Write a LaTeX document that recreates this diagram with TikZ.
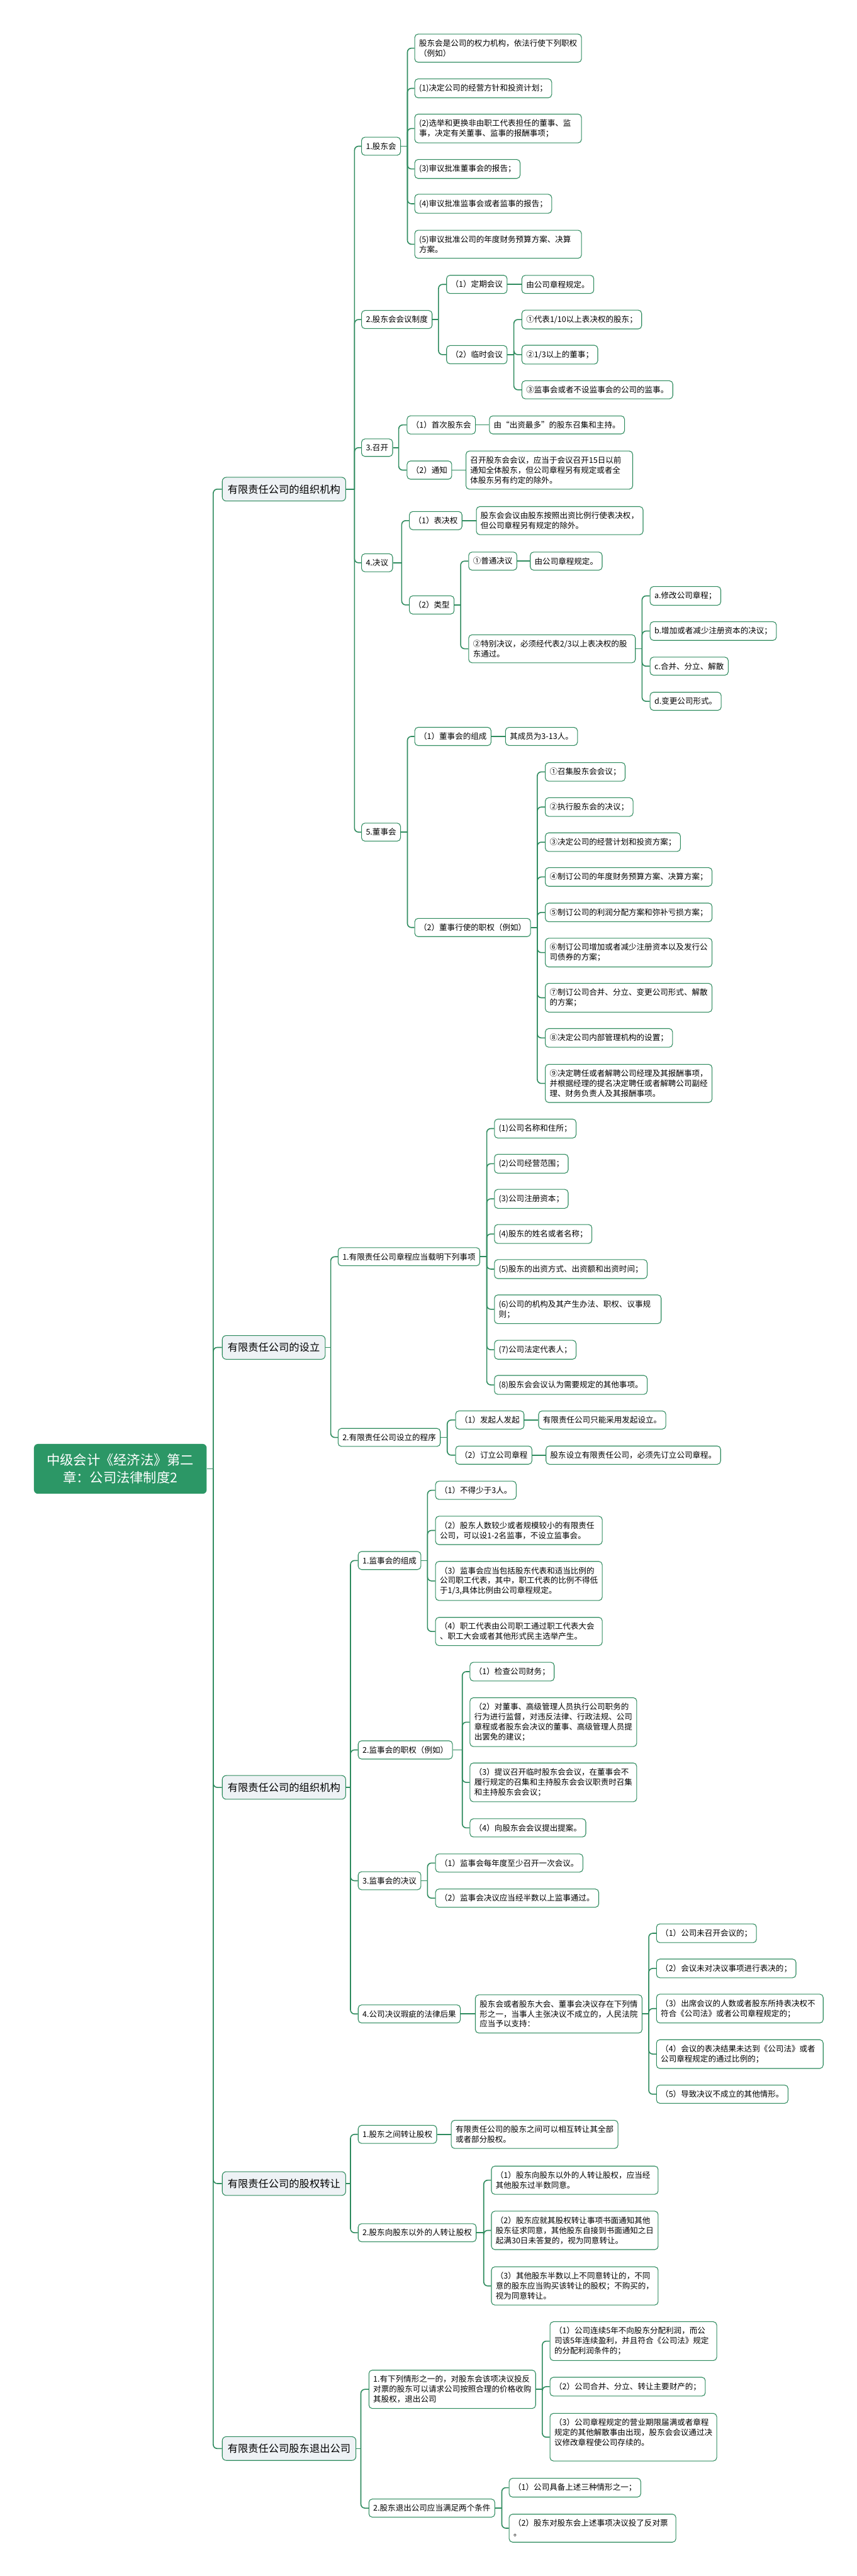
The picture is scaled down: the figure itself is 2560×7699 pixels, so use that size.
\documentclass[tikz,border=0pt]{standalone}
\usepackage{fontspec}
\setmainfont{Noto Sans CJK SC}
\definecolor{leaf}{HTML}{2E8B5E}
\definecolor{deep}{HTML}{2C9766}
\definecolor{mist}{HTML}{EEF2F5}
\tikzset{link/.style={draw=leaf,line width=1.5pt,rounded corners=6pt},
root/.style={fill=deep,text=white,rounded corners=6pt,align=center,anchor=west,minimum width=258pt,minimum height=74.5pt,font={\fontsize{20pt}{26pt}\selectfont}},
topic/.style={draw=leaf,line width=1pt,fill=mist,rounded corners=6pt,anchor=west,inner xsep=8pt,minimum height=35.5pt,font={\fontsize{15.3pt}{18pt}\selectfont}},
item/.style={draw=leaf,line width=1pt,fill=white,rounded corners=5pt,anchor=west,align=left,inner xsep=6.5pt,inner ysep=8pt,font={\fontsize{11.8pt}{15pt}\selectfont}},
wide/.style={item,text width=236pt}}
\newcommand{\fork}[3]{%
  \coordinate (#1-x) at (#2,0);
  \draw[link] (#1.east) -- (#1.east -| #1-x);
  \foreach \kid in {#3}{\draw[link] (#1.east -| #1-x) |- (\kid.west);}}

\begin{document}
\begin{tikzpicture}[x=0.5pt,y=-0.5pt]
\path[fill=white,use as bounding box] (0,0) rectangle (2560,7699);
\node[root] (root) at (101,4390) {中级会计《经济法》第二\\章：公司法律制度2};
\node[topic] (t1) at (663,1462) {有限责任公司的组织机构};
\node[topic] (t2) at (663,4027) {有限责任公司的设立};
\node[topic] (t3) at (663,5342) {有限责任公司的组织机构};
\node[topic] (t4) at (663,6526) {有限责任公司的股权转让};
\node[topic] (t5) at (663,7318) {有限责任公司股东退出公司};
% 组织机构 (一)
\node[item] (a1) at (1079,437) {1.股东会};
\node[wide] (a1p) at (1238,144) {股东会是公司的权力机构，依法行使下列职权\\（例如）};
\node[item] (a11) at (1238,264) {(1)决定公司的经营方针和投资计划；};
\node[wide] (a12) at (1238,384) {(2)选举和更换非由职工代表担任的董事、监\\事，决定有关董事、监事的报酬事项；};
\node[item] (a13) at (1238,505) {(3)审议批准董事会的报告；};
\node[item] (a14) at (1238,609) {(4)审议批准监事会或者监事的报告；};
\node[wide] (a15) at (1238,730) {(5)审议批准公司的年度财务预算方案、决算\\方案。};
\node[item] (a2) at (1079,955) {2.股东会会议制度};
\node[item] (a21) at (1333,850) {（1）定期会议};
\node[item] (a21x) at (1558,850) {由公司章程规定。};
\node[item] (a22) at (1333,1060) {（2）临时会议};
\node[item] (a221) at (1558,955) {①代表1/10以上表决权的股东；};
\node[item] (a222) at (1558,1060) {②1/3以上的董事；};
\node[item] (a223) at (1558,1165) {③监事会或者不设监事会的公司的监事。};
\node[item] (a3) at (1079,1338) {3.召开};
\node[item] (a31) at (1215,1270) {（1）首次股东会};
\node[item] (a31x) at (1461,1270) {由“出资最多”的股东召集和主持。};
\node[item] (a32) at (1215,1405) {（2）通知};
\node[wide] (a32x) at (1391,1405) {召开股东会会议，应当于会议召开15日以前\\通知全体股东，但公司章程另有规定或者全\\体股东另有约定的除外。};
\node[item] (a4) at (1079,1682) {4.决议};
\node[item] (a41) at (1222,1556) {（1）表决权};
\node[wide] (a41x) at (1422,1556) {股东会会议由股东按照出资比例行使表决权，\\但公司章程另有规定的除外。};
\node[item] (a42) at (1222,1808) {（2）类型};
\node[item] (a421) at (1399,1677) {①普通决议};
\node[item] (a421x) at (1583,1677) {由公司章程规定。};
\node[wide] (a422) at (1399,1939) {②特别决议，必须经代表2/3以上表决权的股\\东通过。};
\node[item] (a4221) at (1941,1781) {a.修改公司章程；};
\node[item] (a4222) at (1941,1886) {b.增加或者减少注册资本的决议；};
\node[item] (a4223) at (1941,1991) {c.合并、分立、解散};
\node[item] (a4224) at (1941,2096) {d.变更公司形式。};
\node[item] (a5) at (1079,2487) {5.董事会};
\node[item] (a51) at (1238,2201) {（1）董事会的组成};
\node[item] (a51x) at (1509,2201) {其成员为3-13人。};
\node[item] (a52) at (1238,2772) {（2）董事行使的职权（例如）};
\node[item] (a521) at (1628,2307) {①召集股东会会议；};
\node[item] (a522) at (1628,2412) {②执行股东会的决议；};
\node[item] (a523) at (1628,2517) {③决定公司的经营计划和投资方案；};
\node[item] (a524) at (1628,2621) {④制订公司的年度财务预算方案、决算方案；};
\node[item] (a525) at (1628,2727) {⑤制订公司的利润分配方案和弥补亏损方案；};
\node[wide] (a526) at (1628,2847) {⑥制订公司增加或者减少注册资本以及发行公\\司债券的方案；};
\node[wide] (a527) at (1628,2982) {⑦制订公司合并、分立、变更公司形式、解散\\的方案；};
\node[item] (a528) at (1628,3102) {⑧决定公司内部管理机构的设置；};
\node[wide] (a529) at (1628,3238) {⑨决定聘任或者解聘公司经理及其报酬事项，\\并根据经理的提名决定聘任或者解聘公司副经\\理、财务负责人及其报酬事项。};
% 设立
\node[item] (b1) at (1009,3756) {1.有限责任公司章程应当载明下列事项};
\node[item] (b11) at (1476,3373) {(1)公司名称和住所；};
\node[item] (b12) at (1476,3478) {(2)公司经营范围；};
\node[item] (b13) at (1476,3583) {(3)公司注册资本；};
\node[item] (b14) at (1476,3688) {(4)股东的姓名或者名称；};
\node[item] (b15) at (1476,3793) {(5)股东的出资方式、出资额和出资时间；};
\node[wide] (b16) at (1476,3913) {(6)公司的机构及其产生办法、职权、议事规\\则；};
\node[item] (b17) at (1476,4034) {(7)公司法定代表人；};
\node[item] (b18) at (1476,4139) {(8)股东会会议认为需要规定的其他事项。};
\node[item] (b2) at (1009,4296) {2.有限责任公司设立的程序};
\node[item] (b21) at (1360,4244) {（1）发起人发起};
\node[item] (b21x) at (1608,4244) {有限责任公司只能采用发起设立。};
\node[item] (b22) at (1360,4349) {（2）订立公司章程};
\node[item] (b22x) at (1630,4349) {股东设立有限责任公司，必须先订立公司章程。};
% 组织机构 (二)
\node[item] (c1) at (1069,4664) {1.监事会的组成};
\node[item] (c11) at (1300,4454) {（1）不得少于3人。};
\node[wide] (c12) at (1300,4574) {（2）股东人数较少或者规模较小的有限责任\\公司，可以设1-2名监事，不设立监事会。};
\node[wide] (c13) at (1300,4725) {（3）监事会应当包括股东代表和适当比例的\\公司职工代表，其中，职工代表的比例不得低\\于1/3,具体比例由公司章程规定。};
\node[wide] (c14) at (1300,4876) {（4）职工代表由公司职工通过职工代表大会\\、职工大会或者其他形式民主选举产生。};
\node[item] (c2) at (1069,5230) {2.监事会的职权（例如）};
\node[item] (c21) at (1403,4996) {（1）检查公司财务；};
\node[wide] (c22) at (1403,5147) {（2）对董事、高级管理人员执行公司职务的\\行为进行监督，对违反法律、行政法规、公司\\章程或者股东会决议的董事、高级管理人员提\\出罢免的建议；};
\node[wide] (c23) at (1403,5327) {（3）提议召开临时股东会会议，在董事会不\\履行规定的召集和主持股东会会议职责时召集\\和主持股东会会议；};
\node[item] (c24) at (1403,5463) {（4）向股东会会议提出提案。};
\node[item] (c3) at (1069,5621) {3.监事会的决议};
\node[item] (c31) at (1300,5568) {（1）监事会每年度至少召开一次会议。};
\node[item] (c32) at (1300,5673) {（2）监事会决议应当经半数以上监事通过。};
\node[item] (c4) at (1069,6019) {4.公司决议瑕疵的法律后果};
\node[wide] (c4x) at (1419,6019) {股东会或者股东大会、董事会决议存在下列情\\形之一，当事人主张决议不成立的，人民法院\\应当予以支持：};
\node[item] (c41) at (1960,5778) {（1）公司未召开会议的；};
\node[item] (c42) at (1960,5883) {（2）会议未对决议事项进行表决的；};
\node[wide] (c43) at (1960,6003) {（3）出席会议的人数或者股东所持表决权不\\符合《公司法》或者公司章程规定的；};
\node[wide] (c44) at (1960,6139) {（4）会议的表决结果未达到《公司法》或者\\公司章程规定的通过比例的；};
\node[item] (c45) at (1960,6259) {（5）导致决议不成立的其他情形。};
% 股权转让
\node[item] (d1) at (1069,6379) {1.股东之间转让股权};
\node[wide] (d1x) at (1347,6379) {有限责任公司的股东之间可以相互转让其全部\\或者部分股权。};
\node[item] (d2) at (1069,6673) {2.股东向股东以外的人转让股权};
\node[wide] (d21) at (1467,6516) {（1）股东向股东以外的人转让股权，应当经\\其他股东过半数同意。};
\node[wide] (d22) at (1467,6666) {（2）股东应就其股权转让事项书面通知其他\\股东征求同意，其他股东自接到书面通知之日\\起满30日未答复的，视为同意转让。};
\node[wide] (d23) at (1467,6832) {（3）其他股东半数以上不同意转让的，不同\\意的股东应当购买该转让的股权；不购买的，\\视为同意转让。};
% 退出公司
\node[wide] (e1) at (1101,7141) {1.有下列情形之一的，对股东会该项决议投反\\对票的股东可以请求公司按照合理的价格收购\\其股权，退出公司};
\node[wide] (e11) at (1642,6997) {（1）公司连续5年不向股东分配利润，而公\\司该5年连续盈利，并且符合《公司法》规定\\的分配利润条件的；};
\node[item] (e12) at (1642,7133) {（2）公司合并、分立、转让主要财产的；};
\node[wide] (e13) at (1642,7284) {（3）公司章程规定的营业期限届满或者章程\\规定的其他解散事由出现，股东会会议通过决\\议修改章程使公司存续的。\\ \mbox{}};
\node[item] (e2) at (1101,7496) {2.股东退出公司应当满足两个条件};
\node[item] (e21) at (1520,7435) {（1）公司具备上述三种情形之一；};
\node[wide] (e22) at (1520,7556) {（2）股东对股东会上述事项决议投了反对票\\。};
% connectors
\fork{root}{637}{t1,t2,t3,t4,t5}
\fork{t1}{1059}{a1,a2,a3,a4,a5}
\fork{a1}{1217}{a1p,a11,a12,a13,a14,a15}
\fork{a2}{1310}{a21,a22}
\draw[link] (a21.east) -- (a21x.west);
\fork{a22}{1535}{a221,a222,a223}
\fork{a3}{1191}{a31,a32}
\draw[link] (a31.east) -- (a31x.west);
\draw[link] (a32.east) -- (a32x.west);
\fork{a4}{1200}{a41,a42}
\draw[link] (a41.east) -- (a41x.west);
\fork{a42}{1376}{a421,a422}
\draw[link] (a421.east) -- (a421x.west);
\fork{a422}{1918}{a4221,a4222,a4223,a4224}
\fork{a5}{1217}{a51,a52}
\draw[link] (a51.east) -- (a51x.west);
\fork{a52}{1605}{a521,a522,a523,a524,a525,a526,a527,a528,a529}
\fork{t2}{988}{b1,b2}
\fork{b1}{1454}{b11,b12,b13,b14,b15,b16,b17,b18}
\fork{b2}{1336}{b21,b22}
\draw[link] (b21.east) -- (b21x.west);
\draw[link] (b22.east) -- (b22x.west);
\fork{t3}{1047}{c1,c2,c3,c4}
\fork{c1}{1277}{c11,c12,c13,c14}
\fork{c2}{1381}{c21,c22,c23,c24}
\fork{c3}{1277}{c31,c32}
\draw[link] (c4.east) -- (c4x.west);
\fork{c4x}{1938}{c41,c42,c43,c44,c45}
\fork{t4}{1047}{d1,d2}
\draw[link] (d1.east) -- (d1x.west);
\fork{d2}{1445}{d21,d22,d23}
\fork{t5}{1078}{e1,e2}
\fork{e1}{1620}{e11,e12,e13}
\fork{e2}{1499}{e21,e22}
\end{tikzpicture}
\end{document}
